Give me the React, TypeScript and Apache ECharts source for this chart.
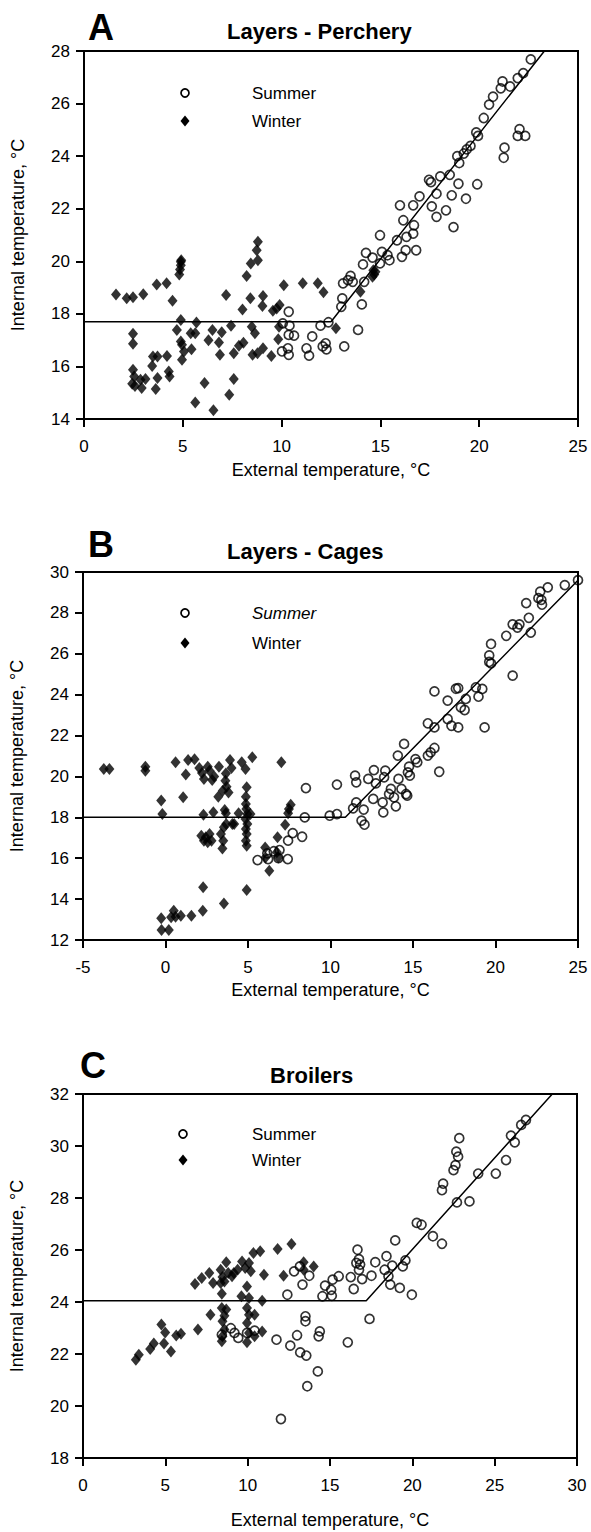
import React, { useEffect, useRef } from "react";
import * as echarts from "echarts";

type P = [number, number];

// ---------- Panel A : Layers - Perchery ----------
const aSummer: P[] = [
  [10.36, 18.08], [10.06, 17.64], [10.4, 17.55], [10.63, 17.17], [10.36, 17.2], [10.02, 16.57], [10.32, 16.69],
  [10.36, 16.44], [11.55, 17.14], [11.26, 16.69], [11.39, 16.41], [11.97, 17.55], [12.37, 17.68], [12.23, 16.88],
  [12.08, 16.76], [12.27, 16.65], [13.02, 18.27], [13.07, 18.59], [13.11, 19.16], [13.36, 19.28], [13.49, 19.44],
  [13.6, 19.22], [13.17, 16.76], [13.87, 17.39], [14.06, 18.36], [14.18, 19.22], [14.12, 19.88], [14.27, 20.32],
  [14.6, 20.14], [14.98, 20.99], [15.08, 20.36], [15.36, 20.23], [15.46, 20.04], [14.98, 19.92], [15.84, 20.8],
  [15.99, 22.13], [16.09, 20.17], [16.16, 21.56], [16.28, 20.42], [16.32, 20.93], [16.66, 22.13], [16.7, 21.37],
  [16.66, 21.05], [16.81, 20.42], [16.98, 22.47], [17.56, 23.01], [17.6, 22.09], [17.84, 22.57], [17.84, 21.69],
  [18.32, 21.94], [18.61, 22.51], [18.7, 21.3], [18.95, 22.95], [19.33, 22.38], [19.9, 22.93], [22.61, 27.68],
  [22.23, 27.16], [21.95, 26.97], [21.56, 26.65], [21.18, 26.84], [21.09, 26.58], [20.7, 26.26], [20.5, 25.96],
  [20.23, 25.45], [19.85, 24.9], [19.94, 24.77], [19.56, 24.39], [19.37, 24.26], [19.22, 24.1], [18.99, 23.74],
  [18.89, 24.0], [18.03, 23.23], [18.51, 23.29], [17.46, 23.1], [21.28, 24.32], [21.24, 23.94], [22.04, 25.03],
  [21.95, 24.77], [22.33, 24.77],
];
const aWinter: P[] = [
  [1.62, 18.74], [2.16, 18.59], [2.48, 18.63], [3.0, 18.75], [3.68, 19.12], [4.18, 19.16], [4.48, 18.5],
  [4.9, 19.98], [4.92, 20.04], [4.9, 19.85], [4.86, 19.69], [4.82, 19.5], [4.9, 17.77], [4.7, 17.39], [4.9, 16.95],
  [4.96, 16.82], [5.06, 16.57], [4.96, 16.25], [5.4, 17.26], [5.63, 17.26], [5.69, 17.67], [5.44, 16.65],
  [2.48, 17.24], [2.48, 16.86], [2.48, 15.87], [2.54, 15.62], [2.44, 15.34], [2.58, 15.26], [2.86, 15.49],
  [2.92, 15.18], [3.11, 15.52], [3.45, 16.02], [3.49, 16.38], [3.72, 16.38], [3.72, 15.56], [3.63, 15.14],
  [4.2, 16.4], [4.29, 15.81], [4.33, 15.62], [5.63, 14.63], [6.1, 15.37], [6.55, 14.33], [6.3, 17.0], [6.5, 17.39],
  [6.83, 16.91], [6.97, 17.3], [6.88, 16.44], [7.19, 18.72], [7.44, 17.55], [7.58, 16.5], [7.58, 15.52],
  [7.35, 14.92], [7.84, 16.79], [8.07, 16.9], [8.02, 18.17], [8.23, 19.44], [8.42, 18.59], [8.44, 19.92],
  [8.8, 20.74], [8.74, 20.42], [8.8, 20.04], [8.49, 17.51], [8.65, 17.26], [8.53, 16.44], [8.78, 16.5],
  [9.06, 16.69], [9.06, 18.68], [9.03, 18.3], [9.48, 16.4], [9.56, 18.12], [9.75, 18.2], [9.9, 18.34],
  [9.83, 17.03], [9.87, 17.51], [10.11, 19.09], [11.07, 19.16], [11.83, 19.16], [12.12, 18.82], [12.75, 17.45],
  [13.99, 18.84], [14.69, 19.5], [14.64, 19.66], [14.6, 19.41], [14.75, 19.6],
];
const aFit: P[] = [[0, 17.7], [12.5, 17.7], [23.3, 28]];

// ---------- Panel B : Layers - Cages ----------
const bSummer: P[] = [
  [5.58, 15.91], [6.17, 16.24], [6.22, 15.96], [6.56, 16.34], [6.91, 16.4], [6.84, 16.01], [7.41, 15.96],
  [7.43, 16.86], [7.71, 17.23], [8.28, 17.05], [8.51, 19.43], [8.44, 18.0], [9.95, 18.08], [10.39, 18.16],
  [10.39, 19.6], [11.37, 18.44], [11.49, 20.04], [11.56, 19.71], [11.56, 18.73], [11.88, 17.84], [12.06, 17.64],
  [12.01, 18.38], [12.29, 19.88], [12.63, 20.31], [12.75, 19.66], [12.59, 18.9], [13.2, 18.24], [13.16, 18.73],
  [13.32, 20.28], [13.25, 19.96], [13.55, 19.14], [13.66, 19.39], [13.85, 18.98], [13.96, 18.54], [14.08, 21.02],
  [14.12, 19.88], [14.3, 19.39], [14.46, 21.59], [14.58, 19.14], [14.65, 19.06], [14.69, 20.2], [14.81, 20.04],
  [14.76, 20.48], [15.15, 20.85], [15.26, 20.69], [15.9, 21.02], [16.07, 21.18], [16.3, 21.39], [15.9, 22.6],
  [16.3, 24.16], [16.3, 22.4], [16.59, 20.23], [17.1, 23.71], [17.1, 22.81], [17.33, 22.48], [17.6, 24.29],
  [17.74, 24.32], [17.74, 22.4], [17.9, 23.38], [18.13, 23.25], [18.2, 23.79], [18.81, 24.36], [19.2, 24.28],
  [18.97, 23.9], [19.34, 22.4], [19.73, 25.53], [21.04, 24.93], [25.0, 29.6], [24.2, 29.36], [23.17, 29.25],
  [22.71, 29.04], [22.6, 28.72], [21.86, 28.48], [22.82, 28.4], [22.78, 28.64], [22.02, 27.76], [21.45, 27.44],
  [21.33, 27.28], [21.04, 27.44], [22.14, 27.04], [20.65, 26.88], [19.73, 26.48], [19.62, 25.92], [19.62, 25.6],
];
const bWinter: P[] = [
  [-3.74, 20.36], [-3.4, 20.36], [-1.22, 20.48], [-1.22, 20.28], [-0.26, 18.82], [-0.19, 18.16], [-0.26, 13.06],
  [-0.24, 12.49], [0.2, 12.49], [0.5, 13.43], [0.34, 13.11], [0.61, 13.14], [0.93, 13.19], [1.57, 13.19],
  [2.26, 13.43], [2.28, 14.58], [3.54, 13.79], [4.92, 14.45], [0.61, 20.69], [1.07, 18.98], [1.23, 20.09],
  [1.37, 20.8], [1.76, 20.84], [2.05, 20.41], [2.21, 20.17], [2.33, 19.88], [2.56, 20.48], [2.67, 20.28],
  [2.83, 19.83], [2.95, 20.0], [2.3, 18.13], [2.9, 18.25], [2.17, 17.1], [2.33, 16.86], [2.44, 17.02],
  [2.56, 16.78], [2.67, 17.19], [2.79, 16.86], [3.2, 19.01], [3.24, 20.48], [3.47, 19.3], [3.63, 19.79],
  [3.66, 20.15], [3.7, 19.5], [3.82, 19.22], [3.59, 18.36], [3.66, 18.2], [3.36, 17.19], [3.54, 17.51],
  [3.5, 16.86], [3.45, 16.48], [3.68, 17.67], [3.91, 20.8], [4.0, 20.41], [4.05, 17.67], [4.16, 17.67],
  [4.43, 18.2], [4.62, 20.69], [4.85, 20.36], [4.92, 19.47], [4.87, 19.01], [4.87, 18.65], [4.9, 18.41],
  [4.96, 18.16], [4.85, 17.92], [4.96, 17.67], [4.87, 17.43], [4.92, 17.19], [4.87, 16.86], [4.92, 16.61],
  [5.15, 18.16], [5.26, 20.94], [6.04, 16.53], [6.06, 16.04], [6.29, 15.39], [6.75, 16.29], [6.79, 17.02],
  [6.84, 16.04], [7.02, 20.69], [7.25, 17.64], [7.43, 18.2], [7.59, 18.62], [7.48, 18.41],
];
const bFit: P[] = [[-5, 18.0], [10.9, 18.0], [25, 29.6]];

// ---------- Panel C : Broilers ----------
const cSummer: P[] = [
  [8.43, 22.74], [8.98, 22.99], [9.2, 22.81], [9.43, 22.62], [9.96, 22.81], [10.42, 22.9], [11.75, 22.55],
  [12.02, 19.5], [12.41, 24.28], [12.59, 22.32], [12.82, 25.18], [13.17, 25.37], [13.0, 22.72], [13.19, 22.06],
  [13.56, 21.94], [13.33, 24.67], [13.51, 23.45], [13.51, 23.26], [13.62, 20.76], [13.74, 25.01], [14.26, 21.33],
  [14.38, 22.87], [14.31, 22.68], [14.54, 24.22], [14.7, 24.63], [15.07, 24.47], [15.11, 24.24], [15.16, 24.86],
  [15.53, 24.99], [16.08, 22.45], [16.26, 24.96], [16.44, 24.5], [16.67, 26.01], [16.76, 25.65], [16.83, 25.44],
  [16.6, 25.5], [16.76, 25.24], [16.95, 24.88], [17.4, 23.35], [17.52, 25.01], [17.75, 25.53], [18.43, 25.76],
  [18.32, 25.24], [18.55, 24.99], [18.66, 24.67], [18.78, 25.4], [18.96, 26.37], [19.24, 24.54], [19.42, 25.37],
  [19.58, 25.6], [19.97, 24.28], [20.27, 27.04], [20.56, 26.97], [21.25, 26.53], [21.8, 26.24], [22.71, 27.83],
  [23.47, 27.87], [21.87, 28.55], [21.8, 28.3], [22.85, 30.3], [22.67, 29.78], [22.78, 29.59], [22.62, 29.26],
  [22.5, 29.07], [24.0, 28.94], [25.07, 28.94], [25.69, 29.46], [25.99, 30.4], [26.22, 30.14], [26.61, 30.81],
  [26.9, 31.0],
];
const cWinter: P[] = [
  [3.21, 21.78], [3.39, 21.97], [4.08, 22.19], [4.3, 22.4], [4.76, 23.13], [4.99, 22.83], [4.92, 22.4],
  [5.34, 22.1], [5.66, 22.71], [5.95, 22.78], [6.8, 24.69], [6.98, 22.94], [7.21, 24.92], [7.67, 25.12],
  [7.74, 23.51], [7.9, 24.73], [8.36, 25.24], [8.47, 24.96], [8.59, 24.79], [8.36, 24.73], [8.43, 24.32],
  [8.7, 25.53], [8.82, 25.12], [9.05, 24.99], [9.16, 25.12], [9.39, 25.24], [9.66, 25.56], [9.85, 25.31],
  [10.08, 25.5], [10.19, 25.18], [10.35, 25.88], [10.76, 25.95], [10.99, 25.05], [11.82, 26.04], [12.66, 26.23],
  [12.18, 25.01], [13.4, 25.53], [13.4, 25.24], [14.01, 25.37], [8.43, 23.77], [8.7, 23.71], [8.59, 23.47],
  [8.47, 23.26], [8.59, 22.94], [8.47, 22.68], [8.43, 22.49], [9.62, 24.22], [9.96, 24.6], [10.08, 24.15],
  [9.96, 23.77], [10.08, 23.51], [10.42, 23.51], [9.96, 23.19], [10.08, 22.81], [9.96, 22.45], [10.88, 24.05],
  [10.42, 22.68], [10.88, 22.87],
];
const cFit: P[] = [[0, 24.05], [17.2, 24.05], [28.5, 32]];

// ---------- axes / labels ----------
const panelLetters = ["A", "B", "C"];
const panelTitles = ["Layers - Perchery", "Layers - Cages", "Broilers"];
const xRanges: P[] = [[0, 25], [-5, 25], [0, 30]];
const yRanges: P[] = [[14, 28], [12, 30], [18, 32]];
const xTitle = "External temperature, \u00B0C";
const yTitle = "Internal temperature, \u00B0C";
const legendNames = ["Summer", "Winter"];

const FONT = "Liberation Sans";

// layout (pixels)
const grids = [
  { left: 84, top: 51, width: 494, height: 368 },
  { left: 83, top: 572, width: 495, height: 368 },
  { left: 82, top: 1094, width: 495, height: 364 },
];
const xNameGaps = [42, 41, 53];
const letterPos = [[88, 27], [88, 544], [80, 1065]];
const titlePos = [[227, 31], [227, 551], [270, 1075]];
const legendPos = [[185, 93, 121], [185, 613, 643], [183, 1134, 1160]];

export default function App() {
  const ref = useRef<HTMLDivElement>(null);
  useEffect(() => {
    document.body.style.margin = "0";
    if (!ref.current) return;
    const chart = echarts.init(ref.current, undefined, { renderer: "svg" });
    const summers = [aSummer, bSummer, cSummer];
    const winters = [aWinter, bWinter, cWinter];
    const fits = [aFit, bFit, cFit];

    const series: any[] = [];
    for (let i = 0; i < 3; i++) {
      series.push({
        type: "line",
        name: "Fit " + panelLetters[i],
        xAxisIndex: i,
        yAxisIndex: i,
        data: fits[i],
        symbol: "none",
        z: 1,
        lineStyle: { color: "#000", width: 1.5 },
        silent: true,
      });
      series.push({
        type: "scatter",
        name: legendNames[0],
        xAxisIndex: i,
        yAxisIndex: i,
        data: summers[i],
        symbol: "circle",
        symbolSize: 9,
        z: 3,
        itemStyle: { color: "rgba(255,255,255,0)", borderColor: "#000", borderWidth: 1.7 },
      });
      series.push({
        type: "scatter",
        name: legendNames[1],
        xAxisIndex: i,
        yAxisIndex: i,
        data: winters[i],
        symbol: "diamond",
        symbolSize: [10, 12],
        z: 2,
        itemStyle: { color: "#000" },
      });
    }

    const graphic: any[] = [];
    for (let i = 0; i < 3; i++) {
      graphic.push({
        type: "text",
        x: letterPos[i][0],
        y: letterPos[i][1],
        style: {
          text: panelLetters[i],
          fontFamily: FONT,
          fontSize: 36,
          fontWeight: "bold",
          fill: "#000",
          verticalAlign: "middle",
        },
      });
      graphic.push({
        type: "text",
        x: titlePos[i][0],
        y: titlePos[i][1],
        style: {
          text: panelTitles[i],
          fontFamily: FONT,
          fontSize: 22,
          fontWeight: "bold",
          fill: "#000",
          verticalAlign: "middle",
        },
      });
      const [lx, ly1, ly2] = legendPos[i];
      graphic.push({
        type: "circle",
        shape: { cx: lx, cy: ly1, r: 4 },
        style: { fill: "none", stroke: "#000", lineWidth: 1.7 },
      });
      graphic.push({
        type: "polygon",
        shape: { points: [[lx, ly2 - 5.5], [lx + 4.5, ly2], [lx, ly2 + 5.5], [lx - 4.5, ly2]] },
        style: { fill: "#000" },
      });
      graphic.push({
        type: "text",
        x: 252,
        y: ly1,
        style: {
          text: legendNames[0],
          fontFamily: FONT,
          fontSize: 17,
          fontStyle: i === 1 ? "italic" : "normal",
          fill: "#000",
          verticalAlign: "middle",
        },
      });
      graphic.push({
        type: "text",
        x: 252,
        y: ly2,
        style: {
          text: legendNames[1],
          fontFamily: FONT,
          fontSize: 17,
          fill: "#000",
          verticalAlign: "middle",
        },
      });
    }

    chart.setOption({
      animation: false,
      backgroundColor: "#fff",
      textStyle: { fontFamily: FONT },
      grid: grids.map((g) => ({
        ...g,
        show: true,
        borderColor: "#000",
        borderWidth: 2,
        backgroundColor: "transparent",
        containLabel: false,
      })),
      xAxis: xRanges.map((r, i) => ({
        type: "value",
        gridIndex: i,
        min: r[0],
        max: r[1],
        interval: 5,
        name: xTitle,
        nameLocation: "middle",
        nameGap: xNameGaps[i],
        nameTextStyle: { fontFamily: FONT, fontSize: 18, color: "#000" },
        axisLine: { show: true, onZero: false, lineStyle: { color: "#000", width: 2 } },
        axisTick: { show: true, inside: false, length: 8, lineStyle: { color: "#000", width: 2 } },
        axisLabel: { fontFamily: FONT, fontSize: 17, color: "#000", margin: 19 },
        splitLine: { show: false },
      })),
      yAxis: yRanges.map((r, i) => ({
        type: "value",
        gridIndex: i,
        min: r[0],
        max: r[1],
        interval: 2,
        name: yTitle,
        nameLocation: "middle",
        nameGap: 57,
        nameTextStyle: { fontFamily: FONT, fontSize: 18, color: "#000" },
        axisLine: { show: true, onZero: false, lineStyle: { color: "#000", width: 2 } },
        axisTick: { show: true, inside: false, length: 8, lineStyle: { color: "#000", width: 2 } },
        axisLabel: { fontFamily: FONT, fontSize: 17, color: "#000", margin: 14 },
        splitLine: { show: false },
      })),
      series,
      graphic,
    });
    return () => chart.dispose();
  }, []);
  return <div ref={ref} style={{ width: 591, height: 1532 }} />;
}
